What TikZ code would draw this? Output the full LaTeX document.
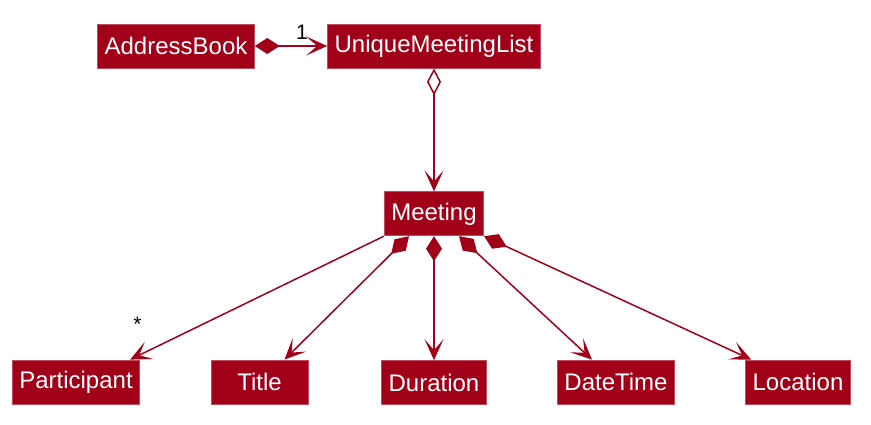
\documentclass[tikz,border=0pt]{standalone}
\usepackage{fontspec}
\setmainfont{Liberation Sans}
\usetikzlibrary{arrows.meta, positioning, calc}
\definecolor{umlred}{RGB}{160,0,24}

\begin{document}
\begin{tikzpicture}
  [x=1pt, y=-1pt,
  % klasse
  klasse/.style = {rectangle,
    draw=umlred!70, fill=umlred,
    line width=0.8pt, text=white,
    inner xsep=7pt,
    minimum height=44pt,
    font=\fontsize{24}{27}\selectfont},
  % line
  >={Stealth[length=21pt, width=19pt, inset=11pt]},
  line/.style = {draw=umlred, line width=1.5pt, ->},
  komp/.style = {line, {Diamond[length=25pt, width=16pt]}->},
  aggr/.style = {line, {Diamond[open, fill=white, length=27pt, width=14pt]}->},
  % label
  mult/.style = {text=black, inner sep=0pt,
    font=\fontsize{21}{23}\selectfont},
  ]
  \useasboundingbox (0,0) rectangle (871,425);

  % nodes
  \node [klasse] (book) at (176,46) {AddressBook};
  \node [klasse] (list) at (434,46) {UniqueMeetingList};
  \node [klasse, below=123pt of list] (meeting) {Meeting};
  \node [klasse, below=124pt of meeting] (duration) {Duration};
  \node [klasse] (participant) at (76,382) {Participant};
  \node [klasse, minimum width=97pt] (title) at (259.5,382) {Title};
  \node [klasse] (datetime) at (616,382) {DateTime};
  \node [klasse] (location) at (798,382) {Location};

  % path
  \path [komp] (book) -- (list) node [mult, pos=0.65, above=6pt] {1};
  \path [aggr] (list) -- (meeting);
  \path [line] (meeting.south west) -- ([xshift=-10pt]participant.north east)
    node [mult, pos=0.9, xshift=-18pt, yshift=23pt] {*};
  \path [komp] ([xshift=-25pt]meeting.south) -- ([xshift=25pt]title.north);
  \path [komp] (meeting) -- (duration);
  \path [komp] ([xshift=25pt]meeting.south) -- ([xshift=-24pt]datetime.north);
  \path [komp] (meeting.south east) -- ([xshift=6pt]location.north west);

\end{tikzpicture}
\end{document}
